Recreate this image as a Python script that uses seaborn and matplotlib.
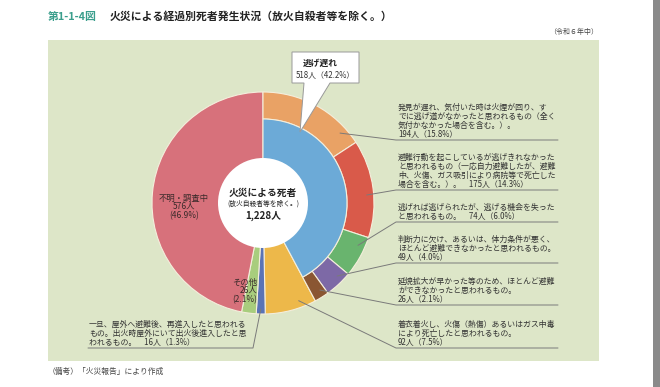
import numpy as np
import matplotlib
matplotlib.use("Agg")
import matplotlib.pyplot as plt
import seaborn as sns
from matplotlib.patches import Rectangle, Circle, Polygon

sns.set_style("white")
plt.rcParams['font.family'] = ['Noto Sans CJK JP', 'DejaVu Sans']

# ---------------- data ----------------
total_label = "1,228人"
main_names = ["逃げ遅れ", "着衣着火", "一旦屋外へ避難後再進入", "その他", "不明・調査中"]
main_counts = [518, 92, 16, 26, 576]
main_pcts = [42.2, 7.5, 1.3, 2.1, 46.9]
sub_counts = [194, 175, 74, 49, 26]
sub_pcts = [15.8, 14.3, 6.0, 4.0, 2.1]
sub_texts = [
    ["発見が遅れ、気付いた時は火煙が回り、す",
     "でに逃げ道がなかったと思われるもの（全く",
     "気付かなかった場合を含む。）。",
     "{n}人（{p}%）"],
    ["避難行動を起こしているが逃げきれなかった",
     "と思われるもの（一応自力避難したが、避難",
     "中、火傷、ガス吸引により病院等で死亡した",
     "場合を含む。）。　{n}人（{p}%）"],
    ["逃げれば逃げられたが、逃げる機会を失った",
     "と思われるもの。　{n}人（{p}%）"],
    ["判断力に欠け、あるいは、体力条件が悪く、",
     "ほとんど避難できなかったと思われるもの。",
     "{n}人（{p}%）"],
    ["延焼拡大が早かった等のため、ほとんど避難",
     "ができなかったと思われるもの。",
     "{n}人（{p}%）"],
]
yellow_text = ["着衣着火し、火傷（熱傷）あるいはガス中毒",
               "により死亡したと思われるもの。",
               "{n}人（{p}%）"]
reentry_text = ["一旦、屋外へ避難後、再進入したと思われる",
                "もの。出火時屋外にいて出火後進入したと思",
                "われるもの。　{n}人（{p}%）"]

# ---------------- style ----------------
main_colors = sns.color_palette(["#6CAAD7", "#EDB84A", "#5A73B6", "#A8CD7D", "#D7717B"])
sub_colors = sns.color_palette(["#E9A265", "#D95A4A", "#69B46E", "#7D69A6", "#8A5632"])
bg = "#DDE6C8"
edge = "#F4EEDC"
txt = "#333333"
line_c = "#7a7a7a"

W, H = 660, 387
def Y(y):
    return H - y

fig = plt.figure(figsize=(6.6, 3.87), dpi=100)
ax = fig.add_axes([0, 0, 1, 1])

ax.add_patch(Rectangle((48, Y(361)), 551, 321, color=bg, zorder=0, lw=0))
ax.add_patch(Rectangle((653, 0), 7, H, color="#8a8a8a", zorder=0, lw=0))

cx, cy = 263, Y(203)
R_out, R_in, R_hole = 111, 84, 45

# full-radius slices (first one is placeholder for 逃げ遅れ)
w_main, _ = ax.pie(main_counts, radius=R_out, center=(cx, cy), startangle=90,
                   counterclock=False, colors=main_colors,
                   wedgeprops=dict(edgecolor=edge, linewidth=0.8))
w_main[0].set_visible(False)

# outer ring for 逃げ遅れ breakdown
rest = sum(main_counts) - sum(sub_counts)
w_ring, _ = ax.pie(sub_counts + [rest], radius=R_out, center=(cx, cy), startangle=90,
                   counterclock=False, colors=list(sub_colors) + ["none"],
                   wedgeprops=dict(width=R_out - R_in, edgecolor=edge, linewidth=0.8))
w_ring[-1].set_visible(False)

# inner 逃げ遅れ pie
w_in, _ = ax.pie([main_counts[0], rest], radius=R_in, center=(cx, cy), startangle=90,
                 counterclock=False, colors=[main_colors[0], "none"],
                 wedgeprops=dict(edgecolor=edge, linewidth=0.8))
w_in[-1].set_visible(False)

ax.add_patch(Circle((cx, cy), R_hole, color="white", zorder=5, lw=0))

ax.set_xlim(0, W)
ax.set_ylim(0, H)
ax.set_aspect("auto")
ax.axis("off")

def anchor(w, f, r):
    a = np.deg2rad(w.theta2 - f * (w.theta2 - w.theta1))
    return cx + r * np.cos(a), cy + r * np.sin(a)

fs = 5.7
pitch = 9.0
seps = [140, 190, 222, 263, 305, 348]
fracs = [0.84, 0.56, 0.27, 0.33, 0.34]
tx0, tx1 = 396, 558

blocks = [(sub_texts[i], sub_counts[i], sub_pcts[i], w_ring[i], fracs[i], 104) for i in range(5)]
blocks.append((yellow_text, main_counts[1], main_pcts[1], w_main[1], 0.3, 104))
for (lines, n, p, w, f, r), s in zip(blocks, seps):
    k = len(lines)
    for j, ln in enumerate(lines):
        yy = s - 6 - (k - 1 - j) * pitch
        ax.text(398, Y(yy), ln.format(n=n, p=p), fontsize=fs, color=txt,
                ha="left", va="center", zorder=6)
    ax0, ay0 = anchor(w, f, r)
    ax.plot([ax0, tx0, tx1], [ay0, Y(s), Y(s)], color=line_c, lw=0.7, zorder=6)

# re-entry block (bottom-left)
s = 348
for j, ln in enumerate(reentry_text):
    yy = s - 6 - (2 - j) * pitch
    ax.text(89, Y(yy), ln.format(n=main_counts[2], p=main_pcts[2]), fontsize=fs,
            color=txt, ha="left", va="center", zorder=6)
bx, by = anchor(w_main[2], 0.5, 106)
ax.plot([bx, 253, 88], [by, Y(s), Y(s)], color=line_c, lw=0.7, zorder=6)

# in-pie labels
dark = "#3a2a2a"
for j, t in enumerate([main_names[4], f"{main_counts[4]}人", f"({main_pcts[4]}%)"]):
    ax.text(184, Y(198 + j * 8.6), t, fontsize=6.0, color=dark, ha="center", va="center", zorder=6)
for j, t in enumerate([main_names[3], f"{main_counts[3]}人", f"({main_pcts[3]}%)"]):
    ax.text(257, Y(282 + j * 8.6), t, fontsize=6.0, color=dark, ha="right", va="center", zorder=6)

# center text
ax.text(cx, Y(193), "火災による死者", fontsize=7.0, color="#222222", ha="center", va="center",
        zorder=7, fontweight="bold")
ax.text(cx, Y(204), "(放火自殺者等を除く。)", fontsize=4.9, color="#222222", ha="center",
        va="center", zorder=7)
ax.text(cx, Y(216), total_label, fontsize=7.0, color="#222222", ha="center", va="center",
        zorder=7, fontweight="bold")

# callout for 逃げ遅れ
pts = [(292, 52), (359, 52), (359, 83), (330, 83), (300, 132), (304, 83), (292, 83)]
ax.add_patch(Polygon([(x, Y(y)) for x, y in pts], closed=True, facecolor="white",
                     edgecolor="#999999", lw=0.7, zorder=8))
ax.text(320, Y(63), main_names[0], fontsize=6.3, color="#222222", ha="center", va="center",
        zorder=9, fontweight="bold")
ax.text(325, Y(75), f"{main_counts[0]}人（{main_pcts[0]}%）", fontsize=fs, color=txt,
        ha="center", va="center", zorder=9)

# title / notes
ax.text(48, Y(17), "第1-1-4図", fontsize=7.8, color="#3A9E8C", ha="left", va="center",
        fontweight="bold")
ax.text(110, Y(17), "火災による経過別死者発生状況（放火自殺者等を除く。）", fontsize=7.8,
        color="#222222", ha="left", va="center", fontweight="bold")
ax.text(598, Y(32), "（令和６年中）", fontsize=5.0, color="#444444", ha="right", va="center")
ax.text(48, Y(372), "（備考）「火災報告」により作成", fontsize=5.6, color="#444444",
        ha="left", va="center")

fig.savefig("out.png", dpi=100)
